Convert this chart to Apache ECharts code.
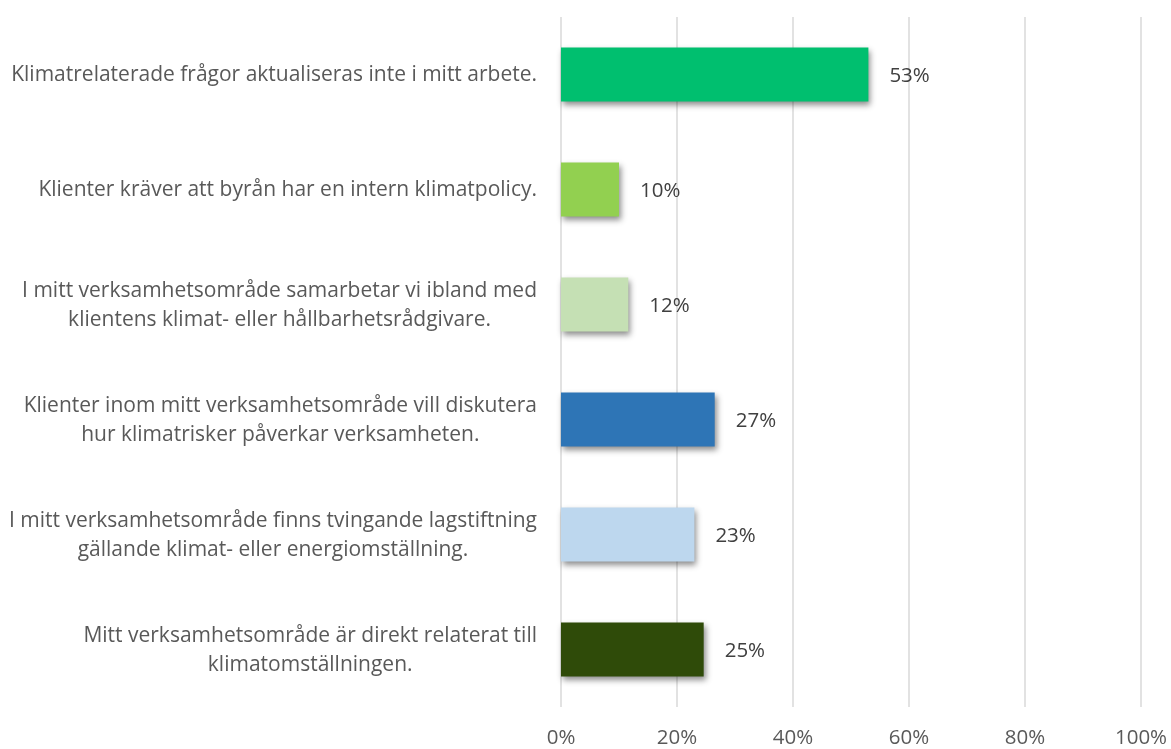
<!DOCTYPE html>
<html>
<head>
<meta charset="utf-8">
<script src="https://cdn.jsdelivr.net/npm/echarts@6/dist/echarts.min.js"></script>
<style>
html,body{margin:0;padding:0;background:#fff;}
#c{width:1171px;height:749px;}
</style>
</head>
<body>
<div id="c"></div>
<script>
// Categories listed top to bottom
const categories = [
  "Klimatrelaterade frågor aktualiseras inte i mitt arbete.",
  "Klienter kräver att byrån har en intern klimatpolicy.",
  "I mitt verksamhetsområde samarbetar vi ibland med\nklientens klimat- eller hållbarhetsrådgivare.",
  "Klienter inom mitt verksamhetsområde vill diskutera\nhur klimatrisker påverkar verksamheten.",
  "I mitt verksamhetsområde finns tvingande lagstiftning\ngällande klimat- eller energiomställning.",
  "Mitt verksamhetsområde är direkt relaterat till\nklimatomställningen."
];
const values = [53, 10, 11.6, 26.5, 23, 24.6];
const barColors = ["#00BF6F", "#92D050", "#C5E0B4", "#2E75B6", "#BDD7EE", "#2F4B09"];
const tickLabels = ["0%", "20%", "40%", "60%", "80%", "100%"];

const FONT = "Open Sans";
const chart = echarts.init(document.getElementById('c'), null, {renderer: 'canvas'});
const cats = categories.slice().reverse();
const vals = values.slice().reverse();
const cols = barColors.slice().reverse();

chart.setOption({
  animation: false,
  backgroundColor: '#ffffff',
  grid: {left: 561, right: 30, top: 17, bottom: 41, containLabel: false},
  xAxis: {
    type: 'value', min: 0, max: 100, interval: 20,
    axisLine: {show: false}, axisTick: {show: false},
    splitLine: {show: true, lineStyle: {color: '#D9D9D9', width: 1.5}},
    axisLabel: {
      margin: 21, color: '#595959', fontFamily: FONT, fontSize: 20.5,
      formatter: function (v) { return tickLabels[Math.round(v / 20)]; }
    }
  },
  yAxis: {
    type: 'category', data: cats,
    axisLine: {show: false}, axisTick: {show: false},
    axisLabel: {
      margin: 24, color: '#595959', fontFamily: FONT, fontSize: 21, align: 'right',
      formatter: function (v) {
        return v.split('\n').map(function (l) { return '{c|' + l + '}'; }).join('\n');
      },
      rich: {c: {align: 'center', fontFamily: FONT, fontSize: 21, color: '#595959', lineHeight: 29, padding: [2, 0, 0, 0]}}
    }
  },
  series: [{
    type: 'bar',
    barWidth: 54,
    data: vals.map(function (v, i) {
      return {value: v, itemStyle: {color: cols[i]}};
    }),
    itemStyle: {
      shadowColor: 'rgba(0,0,0,0.45)', shadowBlur: 6, shadowOffsetX: 2, shadowOffsetY: 3
    },
    label: {
      show: true, position: 'right', distance: 21, offset: [0, 2],
      color: '#404040', fontFamily: FONT, fontSize: 20.5,
      formatter: function (p) { return Math.round(p.value) + '%'; }
    }
  }]
});
</script>
</body>
</html>
